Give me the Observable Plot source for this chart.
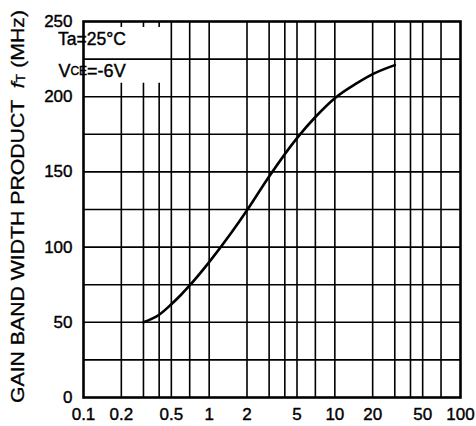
<!DOCTYPE html>
<html><head><meta charset="utf-8">
<script src="https://cdn.jsdelivr.net/npm/d3@7"></script>
<script src="https://cdn.jsdelivr.net/npm/@observablehq/plot@0.6"></script>
<style>body{margin:0;background:#fff} svg{display:block}</style>
</head><body><div id="chart"></div>
<script>
// Collector current IC (mA) vs gain bandwidth product fT (MHz)
const ic = [0.3, 0.4, 0.5, 0.6, 0.7, 1, 1.5, 2, 3, 5, 7, 10, 15, 20, 30];
const ft = [50, 55, 62, 68.5, 74.5, 90, 109.5, 124.5, 147, 172.5, 186.5, 199, 209, 215, 221];
const xTicks = [0.1, 0.2, 0.5, 1, 2, 5, 10, 20, 50, 100];
const yTicks = [0, 50, 100, 150, 200, 250];
const xGridFull = [0.5, 0.7, 1, 2, 3, 4, 5, 7, 10, 20, 30, 40, 50, 70];
const xGridUnderLegend = [0.2, 0.3, 0.4];
const yGrid = [25, 50, 75, 100, 125, 150, 175, 200, 225];
const legendGap = [209, 246]; // vertical extent of the blank legend box (MHz)

const data = ic.map((d, i) => ({ic: d, ft: ft[i]}));
const segs = xGridUnderLegend.flatMap(x => [
  {x, y1: 0, y2: legendGap[0]},
  {x, y1: legendGap[1], y2: 250}
]);
const font = "'Liberation Sans', Arial, sans-serif";

const plot = Plot.plot({
  width: 476, height: 426,
  marginLeft: 83, marginRight: 16, marginTop: 21, marginBottom: 29,
  style: {fontFamily: font, fontSize: "17px", color: "#000", background: "#fff"},
  x: {type: "log", domain: [0.1, 100], axis: null},
  y: {domain: [0, 250], axis: null},
  marks: [
    Plot.ruleX(xGridFull, {stroke: "#000", strokeWidth: 1.6}),
    Plot.ruleX(segs, {x: "x", y1: "y1", y2: "y2", stroke: "#000", strokeWidth: 1.6}),
    Plot.ruleY(yGrid, {stroke: "#000", strokeWidth: 1.6}),
    Plot.line(data, {x: "ic", y: "ft", stroke: "#000", strokeWidth: 2.6, curve: "monotone-x"}),
    Plot.frame({stroke: "#000", strokeWidth: 2.6}),
    Plot.text(xTicks, {x: d => d, text: d => String(d), frameAnchor: "bottom", dy: 17,
      lineAnchor: "middle", fontSize: 17, fill: "#000", stroke: "#000", strokeWidth: 0.4}),
    Plot.text(yTicks, {y: d => d, text: d => String(d), frameAnchor: "left", dx: -11,
      textAnchor: "end", fontSize: 17, fill: "#000", stroke: "#000", strokeWidth: 0.4})
  ]
});

const svg = d3.select(plot);
const sx = plot.scale("x"), sy = plot.scale("y");

// Legend text
const lx = sx.apply(0.118);
svg.append("text").attr("x", lx).attr("y", sy.apply(238))
  .attr("dominant-baseline", "central")
  .attr("stroke", "#000").attr("stroke-width", 0.4)
  .attr("textLength", 68).attr("lengthAdjust", "spacingAndGlyphs")
  .style("font-family", font).style("font-size", "18px")
  .text("Ta=25°C");
const t2 = svg.append("text").attr("x", lx).attr("y", sy.apply(217))
  .attr("dominant-baseline", "central")
  .attr("stroke", "#000").attr("stroke-width", 0.4)
  .style("font-family", font).style("font-size", "18px");
t2.append("tspan").text("V");
t2.append("tspan").style("font-size", "12px").text("CE");
t2.append("tspan").text("=-6V");

// Y axis label
const yl = svg.append("text")
  .attr("transform", "translate(18,206.5) rotate(-90)")
  .attr("text-anchor", "middle").attr("dominant-baseline", "central")
  .attr("stroke", "#000").attr("stroke-width", 0.3)
  .attr("textLength", 393).attr("lengthAdjust", "spacingAndGlyphs")
  .style("font-family", font).style("font-size", "18px");
yl.append("tspan").text("GAIN BAND WIDTH PRODUCT  ");
yl.append("tspan").style("font-style", "italic").text("f");
yl.append("tspan").style("font-size", "12px").attr("dy", "3").text("T");
yl.append("tspan").attr("dy", "-3").text(" (MHz)");

document.getElementById("chart").appendChild(plot);
</script>
</body></html>
